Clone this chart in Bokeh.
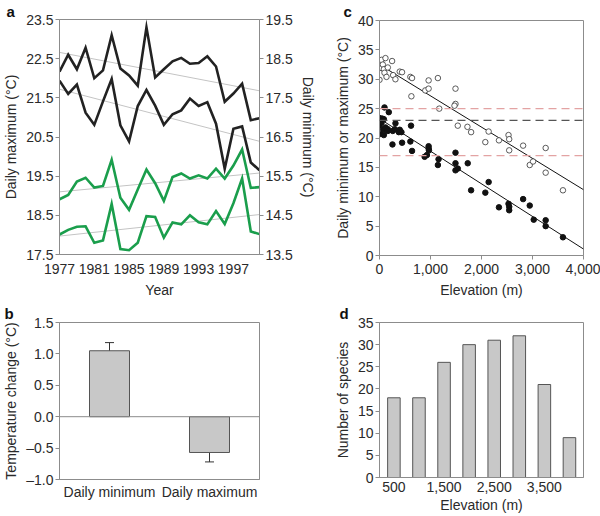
from bokeh.plotting import figure
from bokeh.layouts import row, column
from bokeh.models import (Range1d, LinearAxis, FixedTicker, NumeralTickFormatter, Span,
                          Whisker, ColumnDataSource, FactorRange, TeeHead, Title)
from bokeh.embed import file_html
from bokeh.resources import INLINE

FONT = "Liberation Sans"
TXT = "#2a2a2a"
AX = "#8c8c8c"
FS = "14px"

# ---------------- Panel a data ----------------
years = list(range(1977, 2001))
black_upper = [22.17, 22.60, 22.23, 22.78, 22.00, 22.20, 23.10, 22.25, 22.07, 21.81, 23.30, 22.02,
               22.23, 22.43, 22.52, 22.37, 22.39, 22.56, 22.30, 21.40, 21.61, 21.86, 20.93, 20.98]
black_lower = [21.94, 21.60, 21.84, 21.12, 20.81, 21.41, 21.98, 20.80, 20.39, 21.29, 21.70, 21.30,
               20.81, 21.08, 21.18, 21.48, 21.29, 21.39, 20.84, 19.69, 20.71, 20.77, 19.85, 19.65]
green_upper = [18.91, 19.02, 19.36, 19.46, 19.21, 19.25, 19.92, 18.95, 18.64, 19.16, 19.67, 19.32,
               18.87, 19.48, 19.57, 19.44, 19.52, 19.44, 19.69, 19.44, 19.77, 20.18, 19.20, 19.22]
green_lower = [18.01, 18.13, 18.21, 18.22, 17.80, 17.86, 18.79, 17.64, 17.61, 17.80, 18.48, 18.46,
               17.93, 18.32, 18.27, 18.50, 18.32, 18.27, 18.61, 18.28, 18.81, 19.44, 18.09, 18.02]
trend_years = [1977, 2000]
trend_black_upper = [22.66, 21.68]
trend_black_lower = [21.72, 20.39]
trend_green_upper = [19.10, 19.58]
trend_green_lower = [17.97, 18.52]
a_left_ticks = [17.5, 18.5, 19.5, 20.5, 21.5, 22.5, 23.5]
a_right_ticks = [13.5, 14.5, 15.5, 16.5, 17.5, 18.5, 19.5]
a_year_ticks = [1977, 1981, 1985, 1989, 1993, 1997]

# ---------------- Panel b data ----------------
b_cats = ["Daily minimum", "Daily maximum"]
b_change = [1.05, -0.57]
b_err_upper = [1.18, -0.42]
b_err_lower = [0.92, -0.72]
b_ticks = [-1.0, -0.5, 0.0, 0.5, 1.0, 1.5]

# ---------------- Panel c data ----------------
max_elev = [0, 0, 40, 65, 85, 117, 98, 137, 163, 247, 267, 312, 397, 442, 605, 638, 625, 898,
            963, 963, 1145, 1171, 1490, 1490, 1470, 1535, 1724, 1796, 2075, 2140, 2342, 2530,
            2543, 2543, 2816, 2946, 3011, 3258, 3258, 3597]
max_temp = [29.9, 31.9, 33.3, 32.5, 31.7, 33.6, 31.1, 30.4, 32.0, 33.1, 30.7, 30.0, 31.3, 31.2,
            30.4, 30.2, 27.1, 28.1, 29.8, 28.4, 30.2, 25.0, 28.4, 25.8, 25.5, 22.1, 21.9, 21.0,
            19.3, 21.1, 19.6, 20.5, 19.8, 17.9, 18.7, 15.4, 16.0, 18.3, 14.1, 11.1]
min_elev = [0, 0, 20, 40, 52, 85, 98, 72, 117, 85, 163, 182, 163, 260, 254, 300, 313, 378, 397,
            430, 443, 618, 605, 638, 885, 930, 963, 963, 970, 1158, 1145, 1490, 1490, 1490, 1535,
            1730, 1796, 2075, 2140, 2342, 2530, 2543, 2543, 2816, 2946, 3024, 3258, 3258, 3597]
min_temp = [23.4, 22.2, 20.7, 22.6, 23.3, 23.2, 25.2, 21.5, 21.8, 20.5, 21.5, 24.4, 21.2, 21.2,
            18.9, 21.5, 22.5, 21.0, 21.4, 21.0, 19.2, 22.1, 19.4, 17.8, 16.8, 17.1, 18.6, 18.2,
            17.9, 16.4, 15.4, 17.5, 15.7, 14.5, 14.8, 15.7, 11.1, 10.7, 12.5, 8.2, 8.8, 8.3, 7.7,
            9.6, 8.5, 6.1, 6.0, 5.0, 3.1]
fit_elev = [0, 4000]
fit_max = [32.5, 11.2]
fit_min = [23.3, 1.1]
threshold_levels = [25, 23, 17]
threshold_colors = ["#e3a3a3", "#555555", "#e3a3a3"]
c_yticks = [0, 5, 10, 15, 20, 25, 30, 35, 40]
c_xticks = [0, 1000, 2000, 3000, 4000]

# ---------------- Panel d data ----------------
d_elev = [500, 1000, 1500, 2000, 2500, 3000, 3500, 4000]
d_species = [18, 18, 26, 30, 31, 32, 21, 9]
d_xticks = [500, 1500, 2500, 3500]
d_yticks = [0, 5, 10, 15, 20, 25, 30, 35]


def style(p):
    p.xgrid.visible = False
    p.ygrid.visible = False
    p.outline_line_color = AX
    p.outline_line_width = 1
    p.background_fill_color = "white"
    p.border_fill_color = "white"
    for ax in p.axis:
        ax.axis_line_color = AX
        ax.major_tick_line_color = AX
        ax.minor_tick_line_color = None
        ax.major_tick_out = 4
        ax.major_tick_in = 0
        ax.major_label_standoff = 2
        ax.axis_label_standoff = 4
        ax.major_label_text_font = FONT
        ax.major_label_text_font_size = FS
        ax.major_label_text_color = TXT
        ax.axis_label_text_font = FONT
        ax.axis_label_text_font_size = FS
        ax.axis_label_text_font_style = "normal"
        ax.axis_label_text_color = TXT


def letter_title(p, txt, off, standoff):
    p.add_layout(Title(text=txt, align="left", offset=off, standoff=standoff,
                       text_font=FONT, text_font_size="15px", text_font_style="bold",
                       text_color="#111"), "above")


# ---------------- Panel a ----------------
pa = figure(width=320, height=300, x_range=Range1d(1977, 2000), y_range=Range1d(17.5, 23.5),
            output_backend="svg", toolbar_location=None,
            min_border_left=53, min_border_right=61, min_border_top=17, min_border_bottom=39)
pa.extra_y_ranges = {"min": Range1d(13.5, 19.5)}
right_ax = LinearAxis(y_range_name="min", ticker=FixedTicker(ticks=a_right_ticks),
                      axis_label="Daily minimum (°C)")
pa.add_layout(right_ax, "right")
pa.yaxis[0].ticker = FixedTicker(ticks=a_left_ticks)
pa.yaxis[0].axis_label = "Daily maximum (°C)"
pa.xaxis.ticker = FixedTicker(ticks=a_year_ticks)
pa.xaxis.axis_label = "Year"
for tr in (trend_black_upper, trend_black_lower, trend_green_upper, trend_green_lower):
    pa.line(trend_years, tr, line_color="#c4c4c4", line_width=1)
for ser in (green_upper, green_lower):
    pa.line(years, ser, line_color="#1a9e4c", line_width=2.6, line_join="miter")
for ser in (black_upper, black_lower):
    pa.line(years, ser, line_color="#222222", line_width=2.6, line_join="miter")
style(pa)
pa.xaxis.major_tick_line_color = None
pa.xaxis.major_label_standoff = 5
pa.xaxis.axis_label_standoff = 5
letter_title(pa, "a", -53, 0)

# ---------------- Panel b ----------------
pb = figure(width=320, height=215, x_range=FactorRange(factors=b_cats), y_range=Range1d(-1.0, 1.5),
            output_backend="svg", toolbar_location=None,
            min_border_left=55, min_border_right=60, min_border_top=22, min_border_bottom=36)
src_b = ColumnDataSource(dict(x=b_cats, top=b_change, upper=b_err_upper, lower=b_err_lower))
pb.add_layout(Span(location=0, dimension="width", line_color=AX, line_width=1))
pb.vbar(x="x", top="top", width=0.4, source=src_b, fill_color="#c8c8c8",
        line_color="#555555", line_width=1)
pb.add_layout(Whisker(base="x", upper="upper", lower="lower", source=src_b,
                      line_color="#333333", line_width=1,
                      upper_head=TeeHead(size=9, line_color="#333333", line_width=1),
                      lower_head=TeeHead(size=9, line_color="#333333", line_width=1)))
pb.yaxis.ticker = FixedTicker(ticks=b_ticks)
pb.yaxis.formatter = NumeralTickFormatter(format="0.0")
pb.yaxis.major_label_overrides = {-1.0: "\u20131.0", -0.5: "\u20130.5"}
pb.yaxis.axis_label = "Temperature change (°C)"
style(pb)
pb.xaxis.major_tick_line_color = None
pb.xaxis.major_tick_out = 0
pb.xaxis.major_label_standoff = 4
letter_title(pb, "b", -55, 2)

# ---------------- Panel c ----------------
pc = figure(width=280, height=300, x_range=Range1d(0, 4000), y_range=Range1d(0, 40),
            output_backend="svg", toolbar_location=None,
            min_border_left=59, min_border_right=16, min_border_top=18, min_border_bottom=39)
for lvl, col in zip(threshold_levels, threshold_colors):
    pc.add_layout(Span(location=lvl, dimension="width", line_color=col, line_width=1.3,
                       line_dash="8 5"))
pc.line(fit_elev, fit_max, line_color="#111111", line_width=1)
pc.line(fit_elev, fit_min, line_color="#111111", line_width=1)
pc.scatter(max_elev, max_temp, size=5.5, fill_color="white", line_color="#333333", line_width=0.8)
pc.scatter(min_elev, min_temp, size=5.5, fill_color="#111111", line_color="#111111")
pc.xaxis.ticker = FixedTicker(ticks=c_xticks)
pc.xaxis.formatter = NumeralTickFormatter(format="0,0")
pc.yaxis.ticker = FixedTicker(ticks=c_yticks)
pc.xaxis.axis_label = "Elevation (m)"
pc.yaxis.axis_label = "Daily minimum or maximum (°C)"
style(pc)
pc.xaxis.major_label_standoff = 4
pc.xaxis.axis_label_standoff = 5
letter_title(pc, "c", -36, 1)

# ---------------- Panel d ----------------
pd_ = figure(width=280, height=215, x_range=Range1d(213, 4280), y_range=Range1d(0, 35),
             output_backend="svg", toolbar_location=None,
             min_border_left=59, min_border_right=17, min_border_top=22, min_border_bottom=36)
pd_.vbar(x=d_elev, top=d_species, width=250, fill_color="#c8c8c8", line_color="#555555",
         line_width=1)
pd_.xaxis.ticker = FixedTicker(ticks=d_xticks)
pd_.xaxis.formatter = NumeralTickFormatter(format="0,0")
pd_.yaxis.ticker = FixedTicker(ticks=d_yticks)
pd_.xaxis.axis_label = "Elevation (m)"
pd_.yaxis.axis_label = "Number of species"
style(pd_)
pd_.xaxis.major_tick_line_color = None
pd_.xaxis.major_tick_out = 0
pd_.xaxis.major_label_standoff = 4
pd_.xaxis.axis_label_standoff = 2
letter_title(pd_, "d", -40, 2)

layout = row(column(pa, pb), column(pc, pd_))
open("out.html", "w").write(file_html(layout, INLINE))
